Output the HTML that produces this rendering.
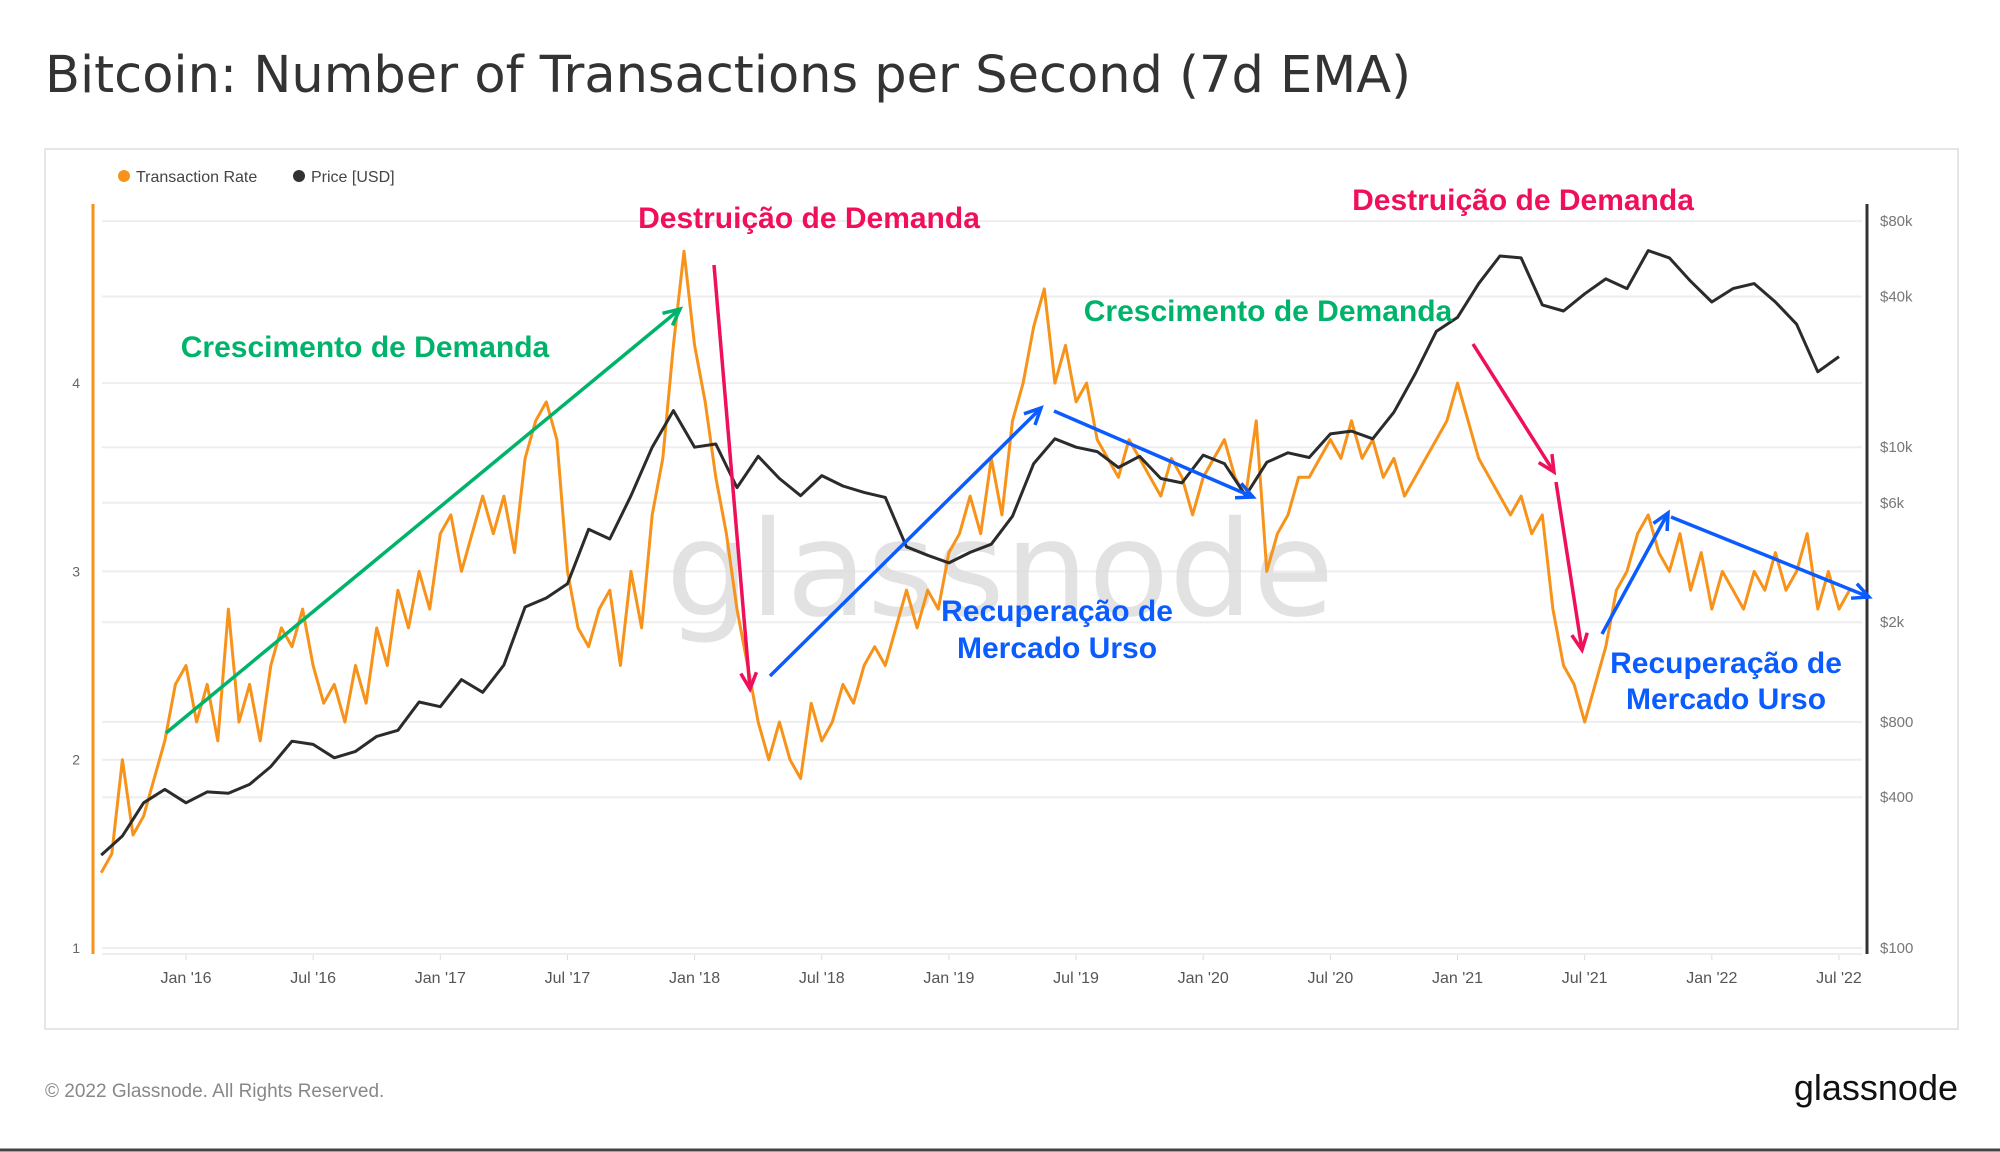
<!DOCTYPE html>
<html><head><meta charset="utf-8">
<style>
html,body{margin:0;padding:0;background:#fff;}
body{width:2000px;height:1152px;position:relative;overflow:hidden;font-family:"Liberation Sans",sans-serif;}
svg{position:absolute;left:0;top:0;}
</style></head>
<body>
<svg id="chart" width="2000" height="1152">
  <rect x="0" y="0" width="2000" height="1152" fill="#fff"/>
  <line x1="0" y1="1150" x2="2000" y2="1150" stroke="#444" stroke-width="3"/>
  <text x="45" y="92" font-size="51" fill="#333" font-family="DejaVu Sans, sans-serif">Bitcoin: Number of Transactions per Second (7d EMA)</text>
  <rect x="45" y="149" width="1913" height="880" fill="none" stroke="#e6e6e6" stroke-width="2"/>
  <circle cx="124" cy="176" r="6" fill="#f7931a"/>
  <text x="136" y="182" font-size="16" fill="#444">Transaction Rate</text>
  <circle cx="299" cy="176" r="6" fill="#333"/>
  <text x="311" y="182" font-size="16" fill="#444">Price [USD]</text>
  <g id="grid"></g>
  <text x="1000" y="615" font-size="132" fill="#dcdcdc" text-anchor="middle" opacity="0.8" font-family="DejaVu Sans, sans-serif">glassnode</text>
  <g id="axes"></g>
  <g id="series"></g>
  <g id="annot"></g>
  <text x="45" y="1097" font-size="19" fill="#888">© 2022 Glassnode. All Rights Reserved.</text>
  <text x="1958" y="1100" font-size="36" fill="#111" text-anchor="end">glassnode</text>
</svg>
<script>
const NS="http://www.w3.org/2000/svg";
// transaction rate, semi-monthly from Sep 2015
const txRate=[1.4,1.5,2.0,1.6,1.7,1.9,2.1,2.4,
2.5,2.2,2.4,2.1,2.8,2.2,2.4,2.1,2.5,2.7,2.6,2.8,2.5,2.3,2.4,2.2,2.5,2.3,2.7,2.5,2.9,2.7,3.0,2.8,
3.2,3.3,3.0,3.2,3.4,3.2,3.4,3.1,3.6,3.8,3.9,3.7,3.0,2.7,2.6,2.8,2.9,2.5,3.0,2.7,3.3,3.6,4.2,4.7,
4.2,3.9,3.5,3.2,2.8,2.5,2.2,2.0,2.2,2.0,1.9,2.3,2.1,2.2,2.4,2.3,2.5,2.6,2.5,2.7,2.9,2.7,2.9,2.8,
3.1,3.2,3.4,3.2,3.6,3.3,3.8,4.0,4.3,4.5,4.0,4.2,3.9,4.0,3.7,3.6,3.5,3.7,3.6,3.5,3.4,3.6,3.5,3.3,
3.5,3.6,3.7,3.5,3.4,3.8,3.0,3.2,3.3,3.5,3.5,3.6,3.7,3.6,3.8,3.6,3.7,3.5,3.6,3.4,3.5,3.6,3.7,3.8,
4.0,3.8,3.6,3.5,3.4,3.3,3.4,3.2,3.3,2.8,2.5,2.4,2.2,2.4,2.6,2.9,3.0,3.2,3.3,3.1,3.0,3.2,2.9,3.1,
2.8,3.0,2.9,2.8,3.0,2.9,3.1,2.9,3.0,3.2,2.8,3.0,2.8,2.9];
const txStart=2015+8/12, txStep=1/24;
// price, monthly from Sep 2015
const price=[235,280,380,430,
380,420,415,450,530,670,650,575,610,700,740,960,
920,1180,1050,1350,2300,2500,2850,4700,4300,6400,10000,14000,
10000,10300,6900,9200,7500,6400,7700,7000,6600,6300,4000,3700,
3450,3800,4100,5300,8600,10800,10000,9600,8300,9200,7500,7200,
9300,8600,6400,8700,9500,9100,11300,11600,10800,13800,19600,29000,
33000,45000,58000,57000,37000,35000,41000,47000,43000,61000,57000,46000,
38000,43000,45000,38000,31000,20000,23000];
const priceStart=2015+8/12, priceStep=1/12;
const leftTicks=[1,2,3,4];
const rightTicks=[100,400,800,2000,6000,10000,40000,80000];
const rightLabels=["$100","$400","$800","$2k","$6k","$10k","$40k","$80k"];
const xTicks=[2016,2016.5,2017,2017.5,2018,2018.5,2019,2019.5,2020,2020.5,2021,2021.5,2022,2022.5];
const xLabels=["Jan '16","Jul '16","Jan '17","Jul '17","Jan '18","Jul '18","Jan '19","Jul '19","Jan '20","Jul '20","Jan '21","Jul '21","Jan '22","Jul '22"];

const X=t=>186+(t-2016)*254.3;
const YL=v=>948-(v-1)*188.3;
const YR=p=>948-(Math.log10(p)-2)*250.4;
const PL=102, PR=1862;

function mk(tag,attrs,parent){const e=document.createElementNS(NS,tag);for(const k in attrs)e.setAttribute(k,attrs[k]);parent.appendChild(e);return e;}
const grid=document.getElementById('grid'), axes=document.getElementById('axes'), ser=document.getElementById('series'), ann=document.getElementById('annot');

leftTicks.forEach(v=>{
  const l=mk('line',{x1:PL,x2:PR,y1:YL(v),y2:YL(v),stroke:'#eeeeee','stroke-width':2},grid);
  
  
  const t=mk('text',{x:80,y:YL(v)+5,'font-size':14,fill:'#666','text-anchor':'end'},axes);
  t.textContent=v;
  
  
});
rightTicks.forEach((p,i)=>{
  const l=mk('line',{x1:PL,x2:PR,y1:YR(p),y2:YR(p),stroke:'#eeeeee','stroke-width':2},grid);
  
  
  const t=mk('text',{x:1880,y:YR(p)+5,'font-size':15,fill:'#777'},axes);
  t.textContent=rightLabels[i];
  
  
});
xTicks.forEach((t,i)=>{
  const l=mk('line',{x1:X(t),x2:X(t),y1:954,y2:960,stroke:'#ddd','stroke-width':1},axes);
  
  
  const e=mk('text',{x:X(t),y:983,'font-size':16,fill:'#555','text-anchor':'middle'},axes);
  e.textContent=xLabels[i];
  
  
});
const la=mk('line',{x1:93,x2:93,y1:204,y2:954,stroke:'#f7931a','stroke-width':3},axes);


const ra=mk('line',{x1:1867,x2:1867,y1:204,y2:954,stroke:'#333','stroke-width':3},axes);


const xa=mk('line',{x1:PL,x2:PR,y1:954,y2:954,stroke:'#eee','stroke-width':2},axes);



let d='';
txRate.forEach((v,i)=>{d+=(i?'L':'M')+X(txStart+i*txStep).toFixed(1)+','+YL(v).toFixed(1);});
const tl=mk('path',{d:d,fill:'none',stroke:'#f7931a','stroke-width':3,'stroke-linejoin':'round'},ser);


d='';
price.forEach((p,i)=>{d+=(i?'L':'M')+X(priceStart+i*priceStep).toFixed(1)+','+YR(p).toFixed(1);});
const pl=mk('path',{d:d,fill:'none',stroke:'#2b2b2b','stroke-width':3,'stroke-linejoin':'round'},ser);



function arrow(x1,y1,x2,y2,c,name){
  const g=mk('g',{},ann);
  
  
  mk('line',{x1:x1,y1:y1,x2:x2,y2:y2,stroke:c,'stroke-width':3.5},g);
  const a=Math.atan2(y2-y1,x2-x1),L=18;
  const p=[[x2-L*Math.cos(a-0.45),y2-L*Math.sin(a-0.45)],[x2,y2],[x2-L*Math.cos(a+0.45),y2-L*Math.sin(a+0.45)]];
  mk('polyline',{points:p.map(q=>q.join(',')).join(' '),fill:'none',stroke:c,'stroke-width':3.5},g);
}
function label(x,y,txt,c,name){
  const t=mk('text',{x:x,y:y,'font-size':30,'font-weight':'bold',fill:c,'text-anchor':'middle'},ann);
  t.textContent=txt;
  
  
}
const G='#00b36b',P='#f0105a',B='#0b5cff';
arrow(166,733,680,309,G,'growth-arrow-1');
arrow(714,265,750,689,P,'destruction-arrow-1');
arrow(770,676,1041,408,B,'recovery-arrow-1');
arrow(1054,411,1253,497,B,'decline-arrow-1');
arrow(1473,344,1554,472,P,'destruction-arrow-2');
arrow(1556,482,1582,650,P,'destruction-arrow-3');
arrow(1602,634,1668,513,B,'recovery-arrow-2');
arrow(1671,517,1869,597,B,'decline-arrow-2');
label(365,357,'Crescimento de Demanda',G,'label-growth-1');
label(809,228,'Destruição de Demanda',P,'label-destruction-1');
label(1268,321,'Crescimento de Demanda',G,'label-growth-2');
label(1523,210,'Destruição de Demanda',P,'label-destruction-2');
label(1057,621,'Recuperação de',B,'label-recovery-1a');
label(1057,658,'Mercado Urso',B,'label-recovery-1b');
label(1726,673,'Recuperação de',B,'label-recovery-2a');
label(1726,709,'Mercado Urso',B,'label-recovery-2b');
</script>
</body></html>
